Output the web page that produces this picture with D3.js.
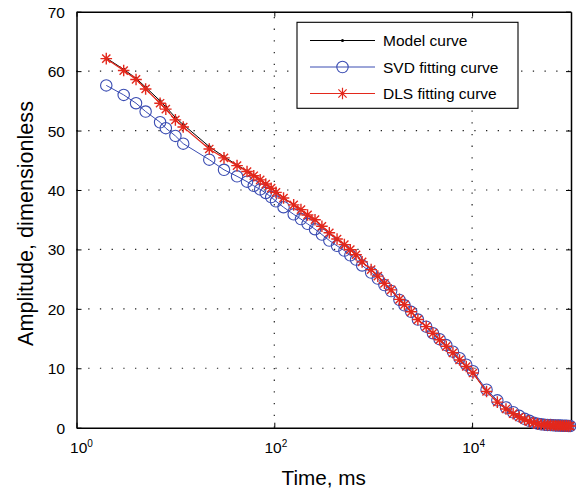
<!DOCTYPE html>
<html>
<head>
<meta charset="utf-8">
<script src="https://cdn.jsdelivr.net/npm/d3@7"></script>
<style>
  html, body { margin: 0; padding: 0; background: #fff; }
  svg { display: block; font-family: "Liberation Sans", Arial, Helvetica, sans-serif; }
</style>
</head>
<body>
<svg id="chart" width="576" height="491"></svg>
<script>
// ---- data ----
const times = [2, 3, 4, 5, 7, 8, 10, 12, 22, 31, 42, 53, 62, 72, 82, 93, 104, 124, 157, 186,
  217, 258, 303, 360, 431, 511, 587, 671, 773, 953, 1113, 1298, 1518, 1843, 2070, 2420,
  2830, 3435, 4016, 4690, 5480, 6400, 7470, 8730, 10200, 14000, 18000, 22000, 26000, 30000,
  34000, 38000, 42000, 46000, 50000, 54000, 58000, 62000, 66000, 70000, 74000, 78000,
  82000, 86000, 90000, 94000, 98000];

const modelValues = [62.2, 60.3, 58.8, 57.3, 55.0, 54.0, 52.2, 51.0, 47.3, 45.6, 44.2, 43.2, 42.5, 41.8, 41.1, 40.4, 39.7, 38.7, 37.5, 36.7,
  35.8, 35.0, 33.9, 32.8, 31.75, 30.8, 29.95, 29.1, 27.9, 26.6, 25.5, 24.3, 23.2, 21.6, 20.7, 19.5,
  18.2, 17.0, 15.9, 14.8, 13.7, 12.6, 11.4, 10.3, 9.2, 6.1, 4.3, 3.15, 2.36, 1.8,
  1.35, 1.06, 0.8, 0.65, 0.55, 0.5, 0.46, 0.43, 0.4, 0.38, 0.36, 0.34,
  0.32, 0.31, 0.3, 0.29, 0.28];

const svdValues = [57.6, 56.0, 54.6, 53.2, 51.4, 50.4, 49.1, 47.8, 45.1, 43.4, 42.3, 41.4, 40.7, 40.1, 39.5, 38.8, 38.1, 37.1, 35.9, 35.1,
  34.3, 33.4, 32.5, 31.5, 30.6, 29.8, 29.0, 28.3, 27.3, 26.1, 25.1, 24.0, 23.0, 21.5, 20.6, 19.5,
  18.2, 17.0, 15.9, 14.9, 13.9, 12.8, 11.7, 10.6, 9.5, 6.4, 4.6, 3.4, 2.6, 2.0,
  1.5, 1.15, 0.85, 0.68, 0.57, 0.51, 0.47, 0.44, 0.41, 0.39, 0.37, 0.35,
  0.33, 0.32, 0.31, 0.3, 0.29];

const dlsValues = [62.1, 60.1, 58.6, 57.0, 54.6, 53.6, 51.8, 50.6, 46.9, 45.4, 44.1, 43.1, 42.4, 41.7, 41.0, 40.3, 39.6, 38.65, 37.5, 36.7,
  35.8, 35.0, 33.9, 32.8, 31.75, 30.8, 29.95, 29.1, 27.9, 26.6, 25.5, 24.3, 23.2, 21.6, 20.7, 19.5,
  18.2, 17.0, 15.9, 14.8, 13.7, 12.6, 11.4, 10.3, 9.2, 6.1, 4.3, 3.15, 2.36, 1.8,
  1.35, 1.06, 0.8, 0.65, 0.55, 0.5, 0.46, 0.43, 0.4, 0.38, 0.36, 0.34,
  0.32, 0.31, 0.3, 0.29, 0.28];

const xTickValues = [1, 100, 10000];
const xTickExponents = ["0", "2", "4"];
const yTickValues = [0, 10, 20, 30, 40, 50, 60, 70];
const seriesNames = ["Model curve", "SVD fitting curve", "DLS fitting curve"];
const xLabel = "Time, ms";
const yLabel = "Amplitude, dimensionless";

// ---- layout ----
const svg = d3.select("#chart");
const plotL = 76.5, plotR = 571, plotT = 11.7, plotB = 427.7;
const blue = "#3a4cb2", red = "#e3281c";

const x = d3.scaleLog().domain([1, 1e5]).range([plotL, plotR]);
const y = d3.scaleLinear().domain([0, 70]).range([plotB, plotT]);

// grid (dotted)
const grid = svg.append("g").attr("stroke", "#222").attr("stroke-width", 1.2)
  .attr("stroke-dasharray", "1.3,10.4");
grid.selectAll("line.gx").data(xTickValues.filter(d => d > 1)).enter().append("line")
  .attr("x1", d => x(d)).attr("x2", d => x(d)).attr("y1", plotB).attr("y2", plotT);
grid.selectAll("line.gy").data(yTickValues.filter(d => d > 0 && d < 70)).enter().append("line")
  .attr("y1", d => y(d)).attr("y2", d => y(d)).attr("x1", plotL).attr("x2", plotR);

// axes via d3 axis generators (ticks inside)
const tickLen = 5;
const xAxisB = d3.axisBottom(x).tickValues(xTickValues).tickSizeInner(-tickLen).tickSizeOuter(0).tickFormat("");
const xAxisT = d3.axisTop(x).tickValues(xTickValues).tickSizeInner(-tickLen).tickSizeOuter(0).tickFormat("");
const yAxisL = d3.axisLeft(y).tickValues(yTickValues).tickSizeInner(-tickLen).tickSizeOuter(0).tickFormat("");
const yAxisR = d3.axisRight(y).tickValues(yTickValues).tickSizeInner(-tickLen).tickSizeOuter(0).tickFormat("");

function styleAxis(g) {
  g.selectAll("path").attr("stroke", "#000").attr("stroke-width", 1.5);
  g.selectAll("line").attr("stroke", "#000").attr("stroke-width", 1);
}
svg.append("g").attr("transform", `translate(0,${plotB})`).call(xAxisB).call(styleAxis);
svg.append("g").attr("transform", `translate(0,${plotT})`).call(xAxisT).call(styleAxis);
svg.append("g").attr("transform", `translate(${plotL},0)`).call(yAxisL).call(styleAxis);
svg.append("g").attr("transform", `translate(${plotR},0)`).call(yAxisR).call(styleAxis);

// tick labels
svg.append("g").selectAll("text").data(yTickValues).enter().append("text")
  .attr("x", 65).attr("y", d => y(d) + 6)
  .attr("text-anchor", "end").attr("font-size", 15.5).attr("fill", "#000")
  .text(d => d);

const xl = svg.append("g").selectAll("text").data(xTickValues).enter().append("text")
  .attr("x", d => x(d) + (d === 1 ? 5 : 1.5)).attr("y", 453.3)
  .attr("text-anchor", "middle").attr("font-size", 15.5).attr("fill", "#000");
xl.append("tspan").text("10");
xl.append("tspan").attr("font-size", 10).attr("dy", -6.5).text((d, i) => xTickExponents[i]);

// axis labels
svg.append("text").attr("x", (plotL + plotR) / 2).attr("y", 485)
  .attr("text-anchor", "middle").attr("font-size", 20.7).attr("fill", "#000").text(xLabel);
svg.append("text").attr("transform", `translate(33,223.5) rotate(-90)`)
  .attr("text-anchor", "middle").attr("font-size", 21.6).attr("fill", "#000").text(yLabel);

// series
const line = d3.line().x(d => x(d[0])).y(d => y(d[1]));
const modelPts = times.map((t, i) => [t, modelValues[i]]);
const svdPts = times.map((t, i) => [t, svdValues[i]]);
const dlsPts = times.map((t, i) => [t, dlsValues[i]]);

const starPath = "M-5.8,0H5.8M0,-5.8V5.8M-4.1,-4.1L4.1,4.1M-4.1,4.1L4.1,-4.1";

// model
svg.append("path").datum(modelPts).attr("d", line).attr("fill", "none").attr("stroke", "#000").attr("stroke-width", 1);
svg.append("g").selectAll("circle").data(modelPts).enter().append("circle")
  .attr("cx", d => x(d[0])).attr("cy", d => y(d[1])).attr("r", 1.5).attr("fill", "#000");

// SVD
svg.append("path").datum(svdPts).attr("d", line).attr("fill", "none").attr("stroke", blue).attr("stroke-width", 1);
svg.append("g").selectAll("circle").data(svdPts).enter().append("circle")
  .attr("cx", d => x(d[0])).attr("cy", d => y(d[1])).attr("r", 5.7)
  .attr("fill", "none").attr("stroke", blue).attr("stroke-width", 1.1);

// DLS
svg.append("path").datum(dlsPts).attr("d", line).attr("fill", "none").attr("stroke", red).attr("stroke-width", 1.2);
svg.append("g").selectAll("path.star").data(dlsPts).enter().append("path")
  .attr("d", starPath).attr("transform", d => `translate(${x(d[0])},${y(d[1])})`)
  .attr("fill", "none").attr("stroke", red).attr("stroke-width", 1.4);

// legend
const lg = svg.append("g");
lg.append("rect").attr("x", 297).attr("y", 22.3).attr("width", 221).attr("height", 86)
  .attr("fill", "#fff").attr("stroke", "#000").attr("stroke-width", 1.1);
const rowsY = [40.5, 67, 93.5];
const colors = ["#000", blue, red];
seriesNames.forEach((name, i) => {
  const ry = rowsY[i];
  lg.append("line").attr("x1", 310).attr("x2", 375).attr("y1", ry).attr("y2", ry)
    .attr("stroke", colors[i]).attr("stroke-width", 1);
  if (i === 0) {
    lg.append("circle").attr("cx", 342.5).attr("cy", ry).attr("r", 1.5).attr("fill", "#000");
  } else if (i === 1) {
    lg.append("circle").attr("cx", 342.5).attr("cy", ry).attr("r", 5.7)
      .attr("fill", "none").attr("stroke", blue).attr("stroke-width", 1.1);
  } else {
    lg.append("path").attr("d", starPath).attr("transform", `translate(342.5,${ry})`)
      .attr("fill", "none").attr("stroke", red).attr("stroke-width", 1.2);
  }
  lg.append("text").attr("x", 383).attr("y", ry + 5.5).attr("font-size", 15.5).attr("fill", "#000").text(name);
});
</script>
</body>
</html>
